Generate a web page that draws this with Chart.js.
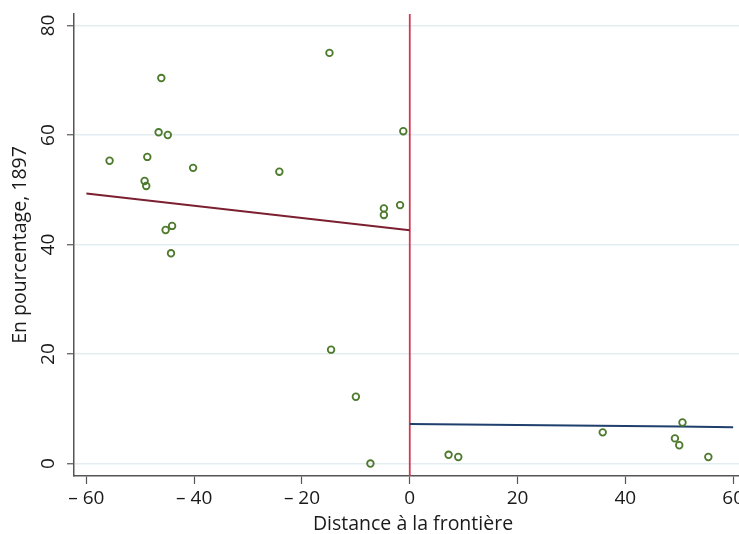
<!DOCTYPE html>
<html>
<head>
<meta charset="utf-8">
<script src="https://cdn.jsdelivr.net/npm/chart.js@4"></script>
<style>
  html, body { margin: 0; padding: 0; overflow: hidden; background: #fff; }
  #wrap { position: absolute; left: 0; top: 0; width: 760px; height: 534px; }
</style>
</head>
<body>
<div id="wrap"><canvas id="c" width="760" height="534"></canvas></div>
<script>
// ---- data ----
const pointsX = [-55.7, -46.1, -46.6, -44.9, -48.7, -40.2, -49.2, -48.9, -45.3, -44.1, -44.3,
                 -24.2, -14.9, -1.2, -4.8, -4.8, -1.8, -14.6, -10.0, -7.3,
                 7.2, 9.0, 35.8, 49.2, 50.0, 50.6, 55.4];
const pointsY = [55.3, 70.4, 60.5, 60.0, 56.0, 54.0, 51.6, 50.7, 42.65, 43.4, 38.4,
                 53.3, 75.0, 60.7, 46.6, 45.4, 47.2, 20.8, 12.2, 0.0,
                 1.6, 1.2, 5.7, 4.6, 3.35, 7.5, 1.2];
const leftFitX = [-60, 0];
const leftFitY = [49.3, 42.6];
const rightFitX = [0, 20, 40, 60];
const rightFitY = [7.24, 7.06, 6.88, 6.64];
const cutoffX = [0, 0];
const xRange = [-62.3, 63.5];
const yRange = [-2.27, 82.1];
const cutoffY = [yRange[0], yRange[1]];
const xTicks = [-60, -40, -20, 0, 20, 40, 60];
const yTicks = [0, 20, 40, 60, 80];
const xTitle = 'Distance à la frontière';
const yTitle = 'En pourcentage, 1897';

const FONT = '"Open Sans", "Noto Sans", sans-serif';
const FS_TICK = 19;
const FS_TITLE = 19.5;
const zip = (xs, ys) => xs.map((x, i) => ({x, y: ys[i]}));

const yLabelPlugin = {
  id: 'yLabels',
  afterDraw(chart) {
    const s = chart.scales.y;
    const ctx = chart.ctx;
    ctx.save();
    ctx.font = FS_TICK + 'px ' + FONT;
    ctx.fillStyle = '#1a1a1a';
    ctx.textAlign = 'center';
    ctx.textBaseline = 'middle';
    yTicks.forEach(v => {
      const py = s.getPixelForValue(v);
      ctx.save();
      ctx.translate(49, py);
      ctx.rotate(-Math.PI / 2);
      ctx.fillText(String(v), 0, 0);
      ctx.restore();
    });
    ctx.restore();
  }
};

new Chart(document.getElementById('c'), {
  type: 'scatter',
  data: {
    datasets: [
      {
        type: 'line', data: zip(cutoffX, cutoffY),
        borderColor: '#d03a55', borderWidth: 1.8, pointRadius: 0, fill: false, order: 3
      },
      {
        type: 'line', data: zip(leftFitX, leftFitY),
        borderColor: '#7c1f30', borderWidth: 2, pointRadius: 0, fill: false, order: 2
      },
      {
        type: 'line', data: zip(rightFitX, rightFitY),
        borderColor: '#1f3f6d', borderWidth: 2, pointRadius: 0, fill: false, tension: 0.3, order: 2
      },
      {
        data: zip(pointsX, pointsY),
        pointStyle: 'circle', pointRadius: 3.3, pointBorderWidth: 1.8,
        pointBorderColor: '#4d7a2d', pointBackgroundColor: 'rgba(0,0,0,0)', order: 1
      }
    ]
  },
  options: {
    responsive: false,
    animation: false,
    events: [],
    layout: { padding: { left: 0, top: 14, right: 8, bottom: 0 } },
    plugins: { legend: { display: false }, tooltip: { enabled: false } },
    scales: {
      x: {
        type: 'linear', min: xRange[0], max: xRange[1],
        afterBuildTicks(s) { s.ticks = xTicks.map(v => ({value: v})); },
        afterFit(s) { s.height = 58; },
        grid: { drawOnChartArea: false, drawTicks: true, tickLength: 8, tickColor: '#555', tickWidth: 1.2 },
        border: { color: '#555', width: 1.5 },
        ticks: {
          font: { family: FONT, size: FS_TICK }, color: '#1a1a1a', padding: 3, maxRotation: 0,
          callback: v => v < 0 ? '\u2013 ' + Math.abs(v) : String(v)
        },
        title: {
          display: true, text: xTitle, color: '#1a1a1a',
          font: { family: FONT, size: FS_TITLE, lineHeight: 0.95 }, padding: { top: 0, bottom: 0 }
        }
      },
      y: {
        type: 'linear', min: yRange[0], max: yRange[1],
        afterBuildTicks(s) { s.ticks = yTicks.map(v => ({value: v})); },
        afterFit(s) { s.width = 74; },
        grid: { color: '#e3edf1', lineWidth: 1.5, drawTicks: true, tickLength: 7, tickColor: '#555', tickWidth: 1.2 },
        border: { color: '#555', width: 1.5 },
        ticks: { display: false },
        title: {
          display: true, text: yTitle, color: '#1a1a1a',
          font: { family: FONT, size: FS_TITLE, lineHeight: 1.2 }, padding: { top: 9, bottom: 0 }
        }
      }
    }
  },
  plugins: [yLabelPlugin]
});
</script>
</body>
</html>
